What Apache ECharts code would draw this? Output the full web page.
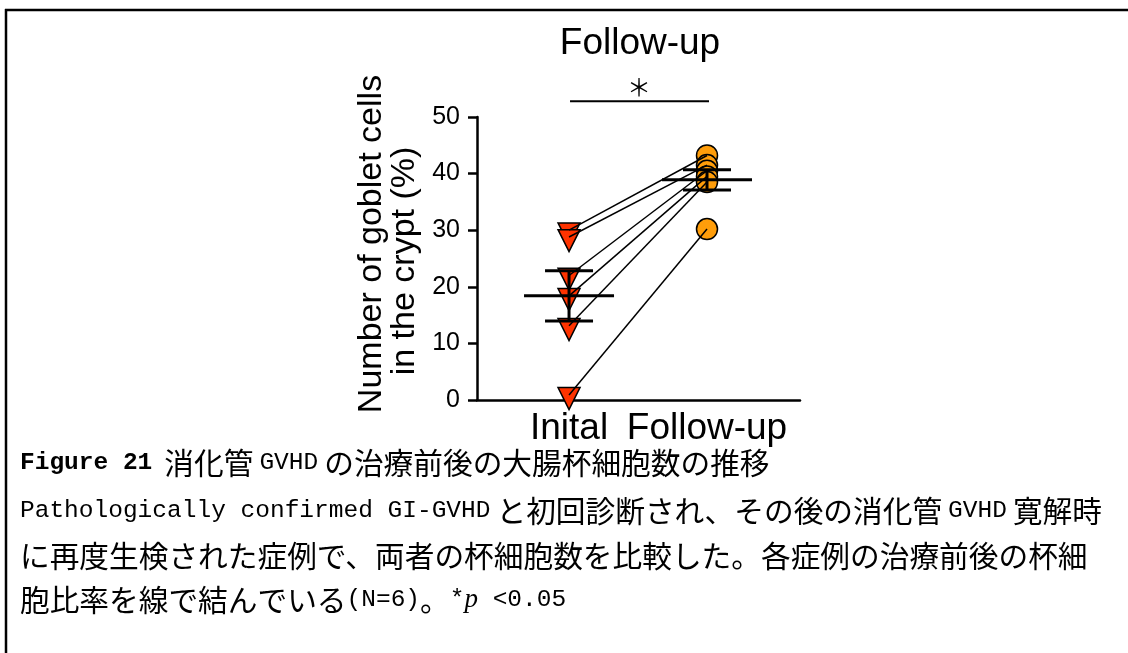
<!DOCTYPE html>
<html><head><meta charset="utf-8">
<script src="https://cdn.jsdelivr.net/npm/echarts@6/dist/echarts.min.js"></script>
<style>html,body{margin:0;padding:0;background:#fff}#c{width:1128px;height:653px}</style>
</head><body><div id="c"></div>
<script>
// ---- data ----
const categories = ['Inital', 'Follow-up'];
const initialValues = [30.0, 28.8, 22.0, 18.4, 13.1, 0.9];
const followUpValues = [43.2, 41.5, 40.5, 39.5, 38.5, 30.2];
const meanValues = [18.4, 38.9];
const semValues = [4.45, 1.8];
const yTicks = [0, 10, 20, 30, 40, 50];
const sigLevel = 52.8;
const titleText = 'Follow-up';
const yNameLines = ['Number of goblet cells', 'in the crypt (%)'];
const captionLines = [
  '{b|Figure 21}{g| }{g| }{j|消化管}{g| }{m|GVHD}{g| }{j|の治療前後の大腸杯細胞数の推移}',
  '{m|Pathologically confirmed GI-GVHD}{g| }{j|と初回診断され、その後の消化管}{g| }{m|GVHD}{g| }{j|寛解時}',
  '{j|に再度生検された症例で、両者の杯細胞数を比較した。各症例の治療前後の杯細}',
  '{j|胞比率を線で結んでいる}{m|(N=6)}{j|。}{m|*}{i|p}{m| <0.05}'
];

const chart = echarts.init(document.getElementById('c'), null, {renderer: 'canvas'});
const sans = 'Liberation Sans, Arial, sans-serif';
const capRich = {
  b: {fontFamily: 'Liberation Mono', fontWeight: 'bold', fontSize: 24.5, color: '#000'},
  m: {fontFamily: 'Liberation Mono', fontSize: 24.5, color: '#111'},
  j: {fontFamily: 'Noto Sans CJK JP', fontSize: 29.7, color: '#111'},
  g: {fontFamily: 'Liberation Mono', fontSize: 10, color: '#000'},
  i: {fontFamily: 'Liberation Serif', fontStyle: 'italic', fontSize: 27, color: '#111'}
};
const capY = [463, 511, 556, 600];

const graphic = [
  {type: 'line', shape: {x1: 5, y1: 10, x2: 1128, y2: 10}, style: {stroke: '#000', lineWidth: 2.5}},
  {type: 'line', shape: {x1: 6, y1: 9, x2: 6, y2: 653}, style: {stroke: '#000', lineWidth: 2.5}},
  {type: 'text', x: 640, y: 44, style: {text: titleText, font: '37px ' + sans, fill: '#000', textAlign: 'center', textVerticalAlign: 'middle'}},
  {type: 'text', x: 372, y: 244, rotation: Math.PI / 2, style: {text: yNameLines[0], font: '34px ' + sans, fill: '#000', textAlign: 'center', textVerticalAlign: 'middle'}},
  {type: 'text', x: 405, y: 261, rotation: Math.PI / 2, style: {text: yNameLines[1], font: '34px ' + sans, fill: '#000', textAlign: 'center', textVerticalAlign: 'middle'}}
];
captionLines.forEach((t, k) => {
  graphic.push({type: 'text', x: 20, y: capY[k], style: {text: t, rich: capRich, textAlign: 'left', textVerticalAlign: 'middle'}});
});

chart.setOption({
  animation: false,
  backgroundColor: '#fff',
  grid: {left: 477, top: 117, width: 323, height: 283, containLabel: false},
  xAxis: {
    type: 'value', min: -0.667, max: 1.674,
    axisLine: {show: true, onZero: false, lineStyle: {color: '#000', width: 2.5}},
    axisTick: {show: false},
    splitLine: {show: false},
    axisLabel: {
      customValues: [0, 1], margin: 10, color: '#000', fontSize: 37, fontFamily: sans,
      formatter: v => categories[Math.round(v)]
    }
  },
  yAxis: {
    type: 'value', min: yTicks[0], max: yTicks[yTicks.length - 1], interval: 10,
    axisLine: {show: true, onZero: false, lineStyle: {color: '#000', width: 2.5}},
    axisTick: {show: true, length: 9, lineStyle: {color: '#000', width: 2.5}},
    splitLine: {show: false},
    axisLabel: {margin: 17, color: '#000', fontSize: 25, fontFamily: sans}
  },
  graphic: graphic,
  series: [
    {
      type: 'scatter', z: 2,
      data: initialValues.map(v => [0, v]),
      symbol: 'path://M0,0L10,0L5,10Z', symbolSize: [22, 22], symbolOffset: [0, 3.7],
      itemStyle: {color: '#FF3300', borderColor: '#000', borderWidth: 1.5, opacity: 1}
    },
    {
      type: 'scatter', z: 2,
      data: followUpValues.map(v => [1, v]),
      symbol: 'circle', symbolSize: 21,
      itemStyle: {color: '#FF9D0A', borderColor: '#000', borderWidth: 1.5, opacity: 1}
    },
    {
      type: 'custom', z: 3,
      data: meanValues.map((m, i) => [i, m, semValues[i]]),
      renderItem: (params, api) => {
        const x = api.value(0), m = api.value(1), s = api.value(2);
        const pm = api.coord([x, m]), pu = api.coord([x, m + s]), pl = api.coord([x, m - s]);
        const st = {stroke: '#000', lineWidth: 3};
        return {type: 'group', children: [
          {type: 'line', shape: {x1: pm[0] - 45, y1: pm[1], x2: pm[0] + 45, y2: pm[1]}, style: st},
          {type: 'line', shape: {x1: pu[0] - 24, y1: pu[1], x2: pu[0] + 24, y2: pu[1]}, style: st},
          {type: 'line', shape: {x1: pl[0] - 24, y1: pl[1], x2: pl[0] + 24, y2: pl[1]}, style: st},
          {type: 'line', shape: {x1: pu[0], y1: pu[1], x2: pl[0], y2: pl[1]}, style: st}
        ]};
      }
    },
    {
      type: 'lines', coordinateSystem: 'cartesian2d', z: 4,
      data: initialValues.map((v, i) => ({coords: [[0, v], [1, followUpValues[i]]]})),
      lineStyle: {color: '#000', width: 1.5, opacity: 1}
    },
    {
      type: 'custom', z: 4, clip: false,
      data: [[0, 1, sigLevel]],
      renderItem: (params, api) => {
        const a = api.coord([api.value(0), api.value(2)]), b = api.coord([api.value(1), api.value(2)]);
        return {type: 'group', children: [
          {type: 'line', shape: {x1: a[0] + 1, y1: a[1], x2: b[0] + 2, y2: b[1]}, style: {stroke: '#000', lineWidth: 2}},
          {type: 'text', x: (a[0] + b[0]) / 2 + 1, y: a[1] - 14, style: {text: '＊', font: '24px Noto Sans CJK JP', fill: '#000', textAlign: 'center', textVerticalAlign: 'middle'}}
        ]};
      }
    }
  ]
});
</script></body></html>
